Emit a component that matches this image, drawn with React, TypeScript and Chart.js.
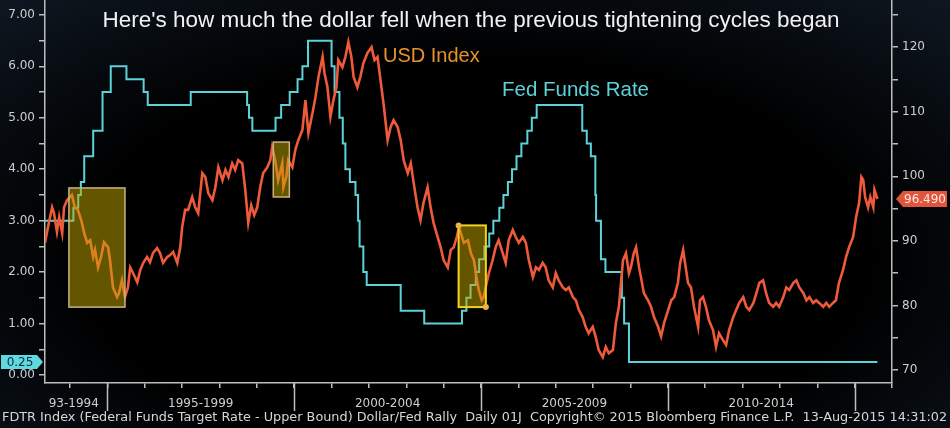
import React, { useEffect, useRef } from 'react';
import { Chart, registerables } from 'chart.js';

Chart.register(...registerables);

// ---- Data ----
const usdDates = [
  1993.33, 1993.41, 1993.52, 1993.57, 1993.65, 1993.71, 1993.79, 1993.84, 1993.92, 1994.0,
  1994.05, 1994.13, 1994.21, 1994.3, 1994.38, 1994.46, 1994.54, 1994.62, 1994.67, 1994.75,
  1994.83, 1994.91, 1995.02, 1995.07, 1995.15, 1995.26, 1995.31, 1995.39, 1995.47, 1995.55,
  1995.61, 1995.69, 1995.8, 1995.88, 1995.96, 1996.06, 1996.14, 1996.22, 1996.33, 1996.41,
  1996.49, 1996.6, 1996.68, 1996.76, 1996.87, 1996.95, 1997.0, 1997.08, 1997.16, 1997.27,
  1997.35, 1997.43, 1997.54, 1997.62, 1997.7, 1997.81, 1997.89, 1997.97, 1998.08, 1998.16,
  1998.24, 1998.34, 1998.42, 1998.5, 1998.61, 1998.69, 1998.77, 1998.85, 1998.93, 1999.01,
  1999.09, 1999.17, 1999.28, 1999.36, 1999.41, 1999.49, 1999.57, 1999.68, 1999.71, 1999.79,
  1999.84, 1999.95, 2000.03, 2000.11, 2000.22, 2000.3, 2000.38, 2000.49, 2000.57, 2000.65,
  2000.76, 2000.81, 2000.89, 2000.97, 2001.05, 2001.13, 2001.18, 2001.29, 2001.37, 2001.45,
  2001.53, 2001.59, 2001.69, 2001.77, 2001.85, 2001.96, 2002.07, 2002.15, 2002.23, 2002.31,
  2002.39, 2002.5, 2002.58, 2002.66, 2002.77, 2002.85, 2002.93, 2003.04, 2003.12, 2003.2,
  2003.3, 2003.38, 2003.46, 2003.57, 2003.65, 2003.73, 2003.84, 2003.92, 2004.0, 2004.11,
  2004.19, 2004.27, 2004.35, 2004.41, 2004.46, 2004.54, 2004.65, 2004.73, 2004.81, 2004.89,
  2004.94, 2005.02, 2005.07, 2005.15, 2005.21, 2005.31, 2005.39, 2005.47, 2005.58, 2005.66,
  2005.74, 2005.85, 2005.93, 2006.01, 2006.12, 2006.2, 2006.28, 2006.39, 2006.47, 2006.55,
  2006.65, 2006.73, 2006.81, 2006.92, 2007.0, 2007.08, 2007.19, 2007.27, 2007.35, 2007.46,
  2007.54, 2007.62, 2007.72, 2007.8, 2007.88, 2007.99, 2008.07, 2008.15, 2008.26, 2008.34,
  2008.42, 2008.53, 2008.61, 2008.69, 2008.8, 2008.88, 2008.96, 2009.01, 2009.09, 2009.15,
  2009.23, 2009.28, 2009.36, 2009.47, 2009.55, 2009.63, 2009.74, 2009.82, 2009.9, 2010.01,
  2010.09, 2010.17, 2010.27, 2010.33, 2010.41, 2010.46, 2010.54, 2010.62, 2010.7, 2010.81,
  2010.86, 2010.94, 2011.02, 2011.1, 2011.21, 2011.29, 2011.37, 2011.48, 2011.56, 2011.64,
  2011.75, 2011.83, 2011.91, 2012.02, 2012.1, 2012.18, 2012.29, 2012.37, 2012.45, 2012.55,
  2012.63, 2012.71, 2012.82, 2012.9, 2012.98, 2013.09, 2013.17, 2013.25, 2013.36, 2013.44,
  2013.52, 2013.63, 2013.71, 2013.79, 2013.89, 2013.97, 2014.05, 2014.16, 2014.24, 2014.32,
  2014.42, 2014.5, 2014.58, 2014.69, 2014.77, 2014.85, 2014.96, 2015.04, 2015.12, 2015.18,
  2015.23, 2015.28, 2015.36, 2015.42, 2015.5, 2015.53, 2015.61,
];
const usdValues = [
  89.7, 92.1, 95.2, 94.3, 91.4, 93.7, 91.2, 95.2, 96.3, 96.8,
  97.1, 95.2, 94.8, 93.2, 91.2, 89.7, 90.1, 87.5, 88.6, 85.9,
  87.5, 89.8, 89.0, 87.0, 82.8, 81.3, 81.9, 83.9, 81.3, 82.8,
  85.9, 85.0, 83.6, 85.5, 86.6, 87.5, 86.7, 88.1, 88.9, 88.1,
  86.6, 87.5, 87.8, 88.3, 86.6, 89.0, 92.1, 94.8, 94.8, 96.8,
  95.2, 94.3, 100.5, 99.9, 97.4, 96.3, 98.3, 101.4, 99.4, 101.0,
  99.9, 102.0, 101.0, 102.5, 102.0, 97.9, 92.8, 95.5, 94.0, 95.2,
  98.3, 100.5, 101.4, 102.5, 104.5, 102.5, 99.4, 102.0, 98.3, 99.9,
  102.5, 101.4, 104.1, 105.6, 107.2, 111.8, 106.7, 109.8, 112.3, 115.4,
  118.5, 116.0, 113.8, 109.2, 111.8, 113.8, 118.0, 116.9, 118.5, 120.8,
  118.5, 115.4, 113.8, 115.4, 117.5, 119.1, 120.0, 118.0, 118.5, 114.9,
  111.3, 105.6, 107.6, 108.7, 107.6, 105.6, 102.5, 100.5, 102.0, 98.9,
  95.2, 93.2, 95.9, 98.3, 95.2, 92.8, 90.6, 89.0, 87.0, 85.9,
  88.6, 89.0, 90.6, 92.1, 91.2, 89.7, 90.1, 88.1, 87.0, 83.9,
  82.4, 80.8, 81.3, 83.5, 85.0, 87.0, 89.0, 90.1, 88.1, 86.6,
  90.1, 91.7, 90.6, 89.7, 90.6, 89.7, 87.0, 84.4, 85.9, 85.5,
  86.6, 85.9, 83.9, 82.8, 85.0, 83.9, 82.8, 82.4, 82.8, 81.3,
  80.8, 79.3, 78.2, 76.7, 75.7, 76.7, 75.1, 73.1, 72.0, 73.6,
  72.6, 73.1, 77.3, 79.8, 87.0, 88.1, 85.0, 85.9, 88.1, 89.0,
  85.9, 84.4, 81.9, 80.8, 79.8, 78.2, 76.7, 75.2, 77.3, 79.3,
  80.8, 81.3, 83.5, 86.6, 88.6, 86.6, 83.5, 82.8, 79.8, 76.7,
  80.8, 81.3, 79.8, 77.7, 76.2, 73.6, 75.7, 74.6, 73.9, 76.2,
  78.2, 79.3, 80.4, 81.3, 79.8, 79.3, 80.4, 81.9, 83.5, 83.9,
  81.9, 80.4, 79.8, 80.4, 79.8, 81.3, 82.8, 82.4, 83.5, 83.9,
  82.8, 81.9, 80.8, 81.3, 80.4, 80.8, 80.4, 79.8, 80.4, 79.8,
  80.4, 80.8, 83.5, 85.5, 87.5, 89.0, 90.6, 93.7, 95.9, 99.9,
  99.4, 96.8, 95.2, 96.8, 95.2, 97.9, 96.49,
];

const fedDates = [
  1993.33, 1994.09, 1994.22, 1994.29, 1994.38, 1994.62, 1994.87, 1995.09, 1995.51, 1995.97,
  1996.08, 1997.23, 1998.74, 1998.79, 1998.88, 1999.5, 1999.65, 1999.88, 2000.09, 2000.22,
  2000.37, 2001.0, 2001.08, 2001.21, 2001.3, 2001.37, 2001.49, 2001.64, 2001.71, 2001.75,
  2001.85, 2001.94, 2002.85, 2003.48, 2004.49, 2004.61, 2004.72, 2004.86, 2004.95, 2005.09,
  2005.22, 2005.33, 2005.49, 2005.6, 2005.72, 2005.83, 2005.95, 2006.08, 2006.24, 2006.36,
  2006.49, 2007.71, 2007.83, 2007.94, 2008.06, 2008.08, 2008.21, 2008.33, 2008.77, 2008.83,
  2008.96, 2015.61,
];
const fedRates = [
  3.0, 3.25, 3.5, 3.75, 4.25, 4.75, 5.5, 6.0, 5.75, 5.5,
  5.25, 5.5, 5.25, 5.0, 4.75, 5.0, 5.25, 5.5, 5.75, 6.0,
  6.5, 6.0, 5.5, 5.0, 4.5, 4.0, 3.75, 3.5, 3.0, 2.5,
  2.0, 1.75, 1.25, 1.0, 1.25, 1.5, 1.75, 2.0, 2.25, 2.5,
  2.75, 3.0, 3.25, 3.5, 3.75, 4.0, 4.25, 4.5, 4.75, 5.0,
  5.25, 4.75, 4.5, 4.25, 3.5, 3.0, 2.25, 2.0, 1.5, 1.0,
  0.25, 0.25,
];

const periodLabels = ['93-1994', '1995-1999', '2000-2004', '2005-2009', '2010-2014'];
const periodStarts = [1993.2, 1995, 2000, 2005, 2010];
const periodEnds = [1995, 2000, 2005, 2010, 2015];
const separatorYears = [1995, 2000, 2005, 2010, 2015];

// highlight boxes (x in years, y in USD index units)
const boxStart = [1993.97, 1999.44, 2004.4];
const boxEnd = [1995.47, 1999.87, 2005.13];
const boxTop = [98.2, 105.3, 92.4];
const boxBottom = [79.75, 96.8, 79.75];

const titleText = "Here's how much the dollar fell when the previous tightening cycles began";
const usdLabel = 'USD Index';
const fedLabel = 'Fed Funds Rate';
const footerText =
  'FDTR Index (Federal Funds Target Rate - Upper Bound) Dollar/Fed Rally  Daily 01J  Copyright\u00a9 2015 Bloomberg Finance L.P.  13-Aug-2015 14:31:02';

const RED = '#ef5a3b';
const CYAN = '#5cd3d9';
const AXIS = '#bdbdbd';
const TICKTXT = '#cfcfcf';
const SANS = '"DejaVu Sans", Verdana, sans-serif';
const ARIAL = '"Liberation Sans", Arial, sans-serif';

const decor = {
  id: 'decor',
  afterDatasetsDraw(chart: any) {
    const { ctx, scales } = chart;
    const x = scales.x;
    const y1 = scales.y1;
    ctx.save();
    for (let i = 0; i < boxStart.length; i++) {
      const l = x.getPixelForValue(boxStart[i]);
      const r = x.getPixelForValue(boxEnd[i]);
      const t = y1.getPixelForValue(boxTop[i]);
      const b = y1.getPixelForValue(boxBottom[i]);
      ctx.fillStyle = 'rgba(200,170,0,0.5)';
      ctx.fillRect(l, t, r - l, b - t);
      const hl = i === 2;
      ctx.strokeStyle = hl ? '#f3d21e' : '#c9b57c';
      ctx.lineWidth = hl ? 2 : 1.5;
      ctx.strokeRect(l, t, r - l, b - t);
      if (hl) {
        ctx.fillStyle = '#e9b347';
        ctx.beginPath();
        ctx.arc(l, t, 3, 0, Math.PI * 2);
        ctx.fill();
        ctx.beginPath();
        ctx.arc(r, b, 3, 0, Math.PI * 2);
        ctx.fill();
      }
    }
    ctx.restore();
  },
  afterDraw(chart: any) {
    const { ctx, scales, chartArea } = chart;
    const x = scales.x;
    const y = scales.y;
    const y1 = scales.y1;
    ctx.save();

    // title
    ctx.fillStyle = '#f0f0f0';
    ctx.font = `22.5px ${ARIAL}`;
    ctx.textAlign = 'center';
    ctx.textBaseline = 'alphabetic';
    ctx.fillText(titleText, 471, 27);

    // series labels
    ctx.font = `20px ${ARIAL}`;
    ctx.textAlign = 'left';
    ctx.fillStyle = '#e8922d';
    ctx.fillText(usdLabel, 383, 62);
    ctx.fillStyle = CYAN;
    ctx.font = `20.5px ${ARIAL}`;
    ctx.fillText(fedLabel, 502, 96);

    // period separators and labels
    ctx.strokeStyle = AXIS;
    ctx.lineWidth = 1.5;
    for (const yr of separatorYears) {
      const px = Math.round(x.getPixelForValue(yr)) + 0.5;
      ctx.beginPath();
      ctx.moveTo(px, chartArea.bottom);
      ctx.lineTo(px, 411);
      ctx.stroke();
    }
    ctx.fillStyle = TICKTXT;
    ctx.font = `12px ${SANS}`;
    ctx.textAlign = 'center';
    ctx.textBaseline = 'middle';
    for (let i = 0; i < periodLabels.length; i++) {
      const cx = (x.getPixelForValue(periodStarts[i]) + x.getPixelForValue(periodEnds[i])) / 2;
      ctx.fillText(periodLabels[i], cx, 404);
    }

    // last value tags
    const lastFed = fedRates[fedRates.length - 1];
    const fy = y.getPixelForValue(lastFed);
    ctx.fillStyle = '#5fd8e0';
    ctx.beginPath();
    ctx.moveTo(1, fy - 7);
    ctx.lineTo(37, fy - 7);
    ctx.lineTo(43, fy);
    ctx.lineTo(37, fy + 7);
    ctx.lineTo(1, fy + 7);
    ctx.closePath();
    ctx.fill();
    ctx.fillStyle = '#0d2a38';
    ctx.font = `12px ${SANS}`;
    ctx.textAlign = 'center';
    ctx.fillText(lastFed.toFixed(2), 20, fy + 0.5);

    const lastUsd = usdValues[usdValues.length - 1];
    const uy = y1.getPixelForValue(lastUsd);
    ctx.fillStyle = '#e2553d';
    ctx.beginPath();
    ctx.moveTo(896, uy);
    ctx.lineTo(903, uy - 8);
    ctx.lineTo(947, uy - 8);
    ctx.lineTo(947, uy + 8);
    ctx.lineTo(903, uy + 8);
    ctx.closePath();
    ctx.fill();
    ctx.fillStyle = '#fde8e2';
    ctx.fillText(lastUsd.toFixed(3), 925, uy + 0.5);

    // footer
    ctx.font = `12px ${SANS}`;
    const w = ctx.measureText(footerText).width;
    const size = (12 * 945) / w;
    ctx.font = `${size.toFixed(2)}px ${SANS}`;
    ctx.fillStyle = '#d6d6d6';
    ctx.textAlign = 'left';
    ctx.fillText(footerText, 2, 418);

    ctx.restore();
  },
};

export default function App() {
  const ref = useRef<HTMLCanvasElement | null>(null);

  useEffect(() => {
    document.body.style.margin = '0';
    document.body.style.background = '#000';
    const canvas = ref.current;
    if (!canvas) return;
    const chart = new Chart(canvas, {
      type: 'line',
      data: {
        datasets: [
          {
            label: usdLabel,
            data: usdDates.map((d, i) => ({ x: d, y: usdValues[i] })),
            yAxisID: 'y1',
            borderColor: RED,
            borderWidth: 2.6,
            pointRadius: 0,
            tension: 0,
            borderJoinStyle: 'miter',
            order: 0,
          },
          {
            label: fedLabel,
            data: fedDates.map((d, i) => ({ x: d, y: fedRates[i] })),
            yAxisID: 'y',
            borderColor: CYAN,
            borderWidth: 2,
            pointRadius: 0,
            stepped: true,
            order: 1,
          },
        ],
      },
      options: {
        responsive: false,
        animation: false,
        layout: { padding: 0 },
        plugins: { legend: { display: false }, tooltip: { enabled: false }, title: { display: false } },
        scales: {
          x: {
            type: 'linear',
            min: 1993.33,
            max: 2016,
            ticks: {
              stepSize: 1,
              includeBounds: false,
              autoSkip: false,
              maxRotation: 0,
              maxTicksLimit: 1000,
              callback: () => '',
            },
            grid: { drawOnChartArea: false, drawTicks: true, tickLength: 5, color: AXIS, lineWidth: 1.5 },
            border: { display: true, color: AXIS, width: 1.5 },
            afterFit: (s: any) => {
              s.height = 45;
              s.paddingLeft = 0;
              s.paddingRight = 0;
            },
          },
          y: {
            type: 'linear',
            position: 'left',
            min: -0.156,
            max: 7.29,
            ticks: {
              stepSize: 0.5,
              includeBounds: false,
              autoSkip: false,
              maxTicksLimit: 1000,
              padding: 4,
              color: TICKTXT,
              font: { family: SANS, size: 12 },
              callback: (v: any) => (Math.abs(v - Math.round(v)) < 1e-6 ? Number(v).toFixed(2) : ''),
            },
            grid: { drawOnChartArea: false, drawTicks: true, tickLength: 6, color: AXIS, lineWidth: 1.5 },
            border: { display: true, color: AXIS, width: 1.5 },
            afterFit: (s: any) => {
              s.width = 45;
              s.paddingTop = 0;
              s.paddingBottom = 0;
            },
          },
          y1: {
            type: 'linear',
            position: 'right',
            min: 68,
            max: 127.3,
            ticks: {
              stepSize: 5,
              includeBounds: false,
              autoSkip: false,
              maxTicksLimit: 1000,
              padding: 4,
              color: TICKTXT,
              font: { family: SANS, size: 12 },
              callback: (v: any) => (Math.round(v) % 10 === 0 ? String(Math.round(v)) : ''),
            },
            grid: { drawOnChartArea: false, drawTicks: true, tickLength: 6, color: AXIS, lineWidth: 1.5 },
            border: { display: true, color: AXIS, width: 1.5 },
            afterFit: (s: any) => {
              s.width = 58;
              s.paddingTop = 0;
              s.paddingBottom = 0;
            },
          },
        },
      },
      plugins: [decor],
    });
    return () => chart.destroy();
  }, []);

  return (
    <div
      style={{
        width: 950,
        height: 428,
        background: 'radial-gradient(ellipse 75% 85% at 50% 60%, #000 55%, #0f1924 100%)',
        overflow: 'hidden',
      }}
    >
      <canvas ref={ref} width={950} height={428} style={{ display: 'block', width: 950, height: 428 }} />
    </div>
  );
}
